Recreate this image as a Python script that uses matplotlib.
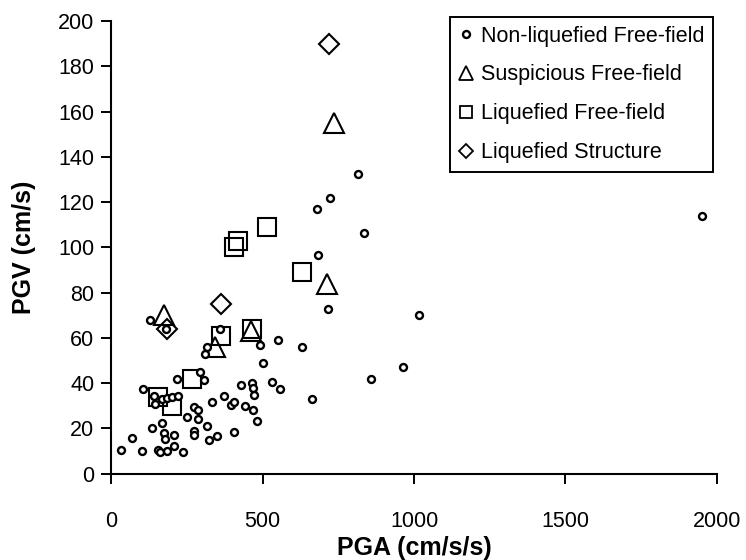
import matplotlib
matplotlib.use("Agg")
import matplotlib.pyplot as plt
from matplotlib.lines import Line2D

plt.rcParams['font.family'] = ['Liberation Sans', 'DejaVu Sans']

# Non-liquefied free-field records (PGA cm/s/s, PGV cm/s)
nonliq_pga = [129, 181, 360, 318, 310, 492, 551, 629, 717, 1017, 965, 857, 500,
              532, 557, 664, 464, 467, 470, 467, 483, 292, 306, 218, 104, 142,
              145, 167, 184, 200, 222, 275, 286, 332, 250, 286, 169, 136, 173,
              178, 209, 68, 31, 101, 154, 162, 184, 209, 237, 275, 272, 316,
              323, 351, 404, 429, 374, 396, 407, 442, 815, 723, 680, 835, 683,
              1950]
nonliq_pgv = [68, 64, 64, 56, 53, 57, 59, 56, 73, 70, 47, 42, 49,
              40.6, 37.4, 33, 40.3, 37.8, 34.6, 28.3, 23.4, 45, 41.5, 42, 37.3, 34.3,
              31, 33, 33.5, 34, 34.4, 29.7, 28, 31.8, 25, 24, 22.4, 20.2, 18.2,
              15.3, 17.2, 15.8, 10.3, 9.9, 10.6, 9.4, 9.9, 12.4, 9.4, 18.7, 17.2, 21,
              14.8, 16.5, 18.4, 39.3, 34.4, 30.5, 31.7, 30, 132.5, 122, 117, 106.4, 96.7,
              114]

# Suspicious free-field
susp_pga = [736, 712, 176, 342, 463]
susp_pgv = [155, 84, 70, 56, 63]

# Liquefied free-field
liqff_pga = [156, 200, 268, 362, 466, 406, 419, 516, 630]
liqff_pgv = [34, 30, 42, 61, 64, 100, 103, 109, 89]

# Liquefied structure
liqst_pga = [719, 363, 184]
liqst_pgv = [190, 75, 64]

fig = plt.figure(figsize=(7.46, 5.6), dpi=100)
ax = fig.add_axes([0.149, 0.154, 0.812, 0.8085])

ax.plot(liqff_pga, liqff_pgv, ls='none', marker='s', ms=13.5, mfc='none',
        mec='black', mew=1.5)
ax.plot(susp_pga, susp_pgv, ls='none', marker='^', ms=15, mfc='none',
        mec='black', mew=1.5)
ax.plot(liqst_pga, liqst_pgv, ls='none', marker='D', ms=10.5, mfc='none',
        mec='black', mew=1.5)
ax.plot(nonliq_pga, nonliq_pgv, ls='none', marker='o', ms=5, mfc='white',
        mec='black', mew=1.7)

ax.set_xlim(0, 2000)
ax.set_ylim(0, 200)
ax.set_xticks([0, 500, 1000, 1500, 2000])
ax.set_yticks(range(0, 201, 20))
ax.tick_params(direction='out', length=7, width=1.4, labelsize=15.5, pad=5)
ax.tick_params(axis='x', pad=20)
for s in ['top', 'right']:
    ax.spines[s].set_visible(False)
for s in ['left', 'bottom']:
    ax.spines[s].set_linewidth(1.5)

ax.set_xlabel('PGA (cm/s/s)', fontsize=18, fontweight='bold', labelpad=3)
ax.set_ylabel('PGV (cm/s)', fontsize=18, fontweight='bold', labelpad=16)

handles = [
    Line2D([], [], ls='none', marker='o', ms=5, mfc='white', mec='black', mew=1.7),
    Line2D([], [], ls='none', marker='^', ms=10, mfc='none', mec='black', mew=1.3),
    Line2D([], [], ls='none', marker='s', ms=9, mfc='none', mec='black', mew=1.3),
    Line2D([], [], ls='none', marker='D', ms=7, mfc='none', mec='black', mew=1.3),
]
labels = ['Non-liquefied Free-field', 'Suspicious Free-field',
          'Liquefied Free-field', 'Liquefied Structure']
leg = ax.legend(handles, labels, loc='upper right',
                bbox_to_anchor=(713 / 746, 1 - 17 / 560),
                bbox_transform=fig.transFigure, borderaxespad=0,
                fontsize=15.5, frameon=True, fancybox=False, framealpha=1,
                edgecolor='black', handlelength=0.7, handletextpad=0.35,
                labelspacing=0.83, borderpad=0.4)
leg.get_frame().set_linewidth(1.4)

fig.savefig('out.png', dpi=100)
